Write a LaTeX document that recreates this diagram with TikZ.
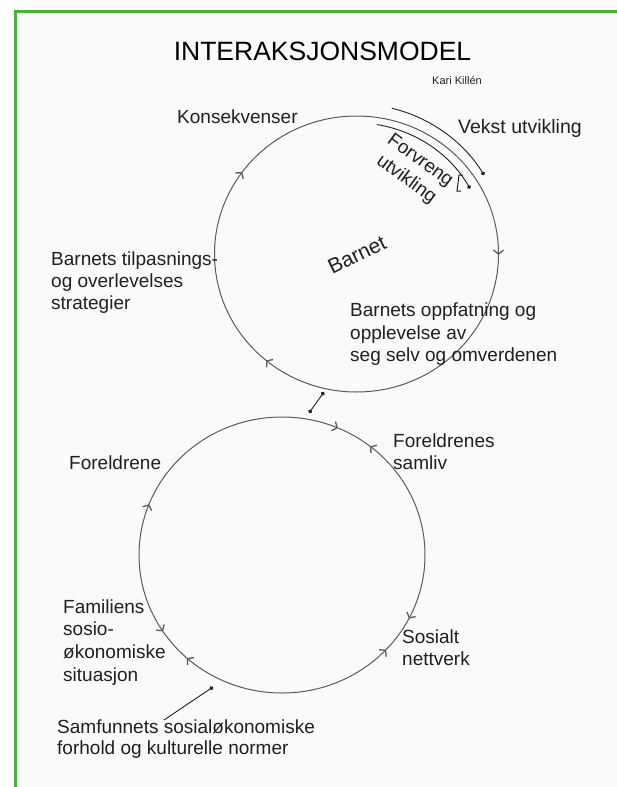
\documentclass[tikz,border=0pt]{standalone}
\usepackage{fontspec}
\setmainfont{Liberation Sans}
\usetikzlibrary{arrows.meta,decorations.markings}
\definecolor{framegreen}{RGB}{76,175,60}
\definecolor{inkgray}{RGB}{32,32,32}
\definecolor{ringgray}{RGB}{90,90,90}
\definecolor{paper}{RGB}{250,250,250}
\tikzset{
  chev/.tip={Straight Barb[length=4pt,width=10pt,line width=1.3pt]},
  dottip/.tip={Circle[length=4pt]},
}
\begin{document}
\begin{tikzpicture}[x=1pt,y=1pt,
  ring/.style={draw=ringgray, line width=1pt},
  lbl/.style={anchor=base west, align=left, inner sep=0pt, text=inkgray,
    font=\fontsize{19}{22.4}\selectfont},
  dotend/.style={draw=inkgray, line width=0.9pt, -dottip},
  frameline/.style={draw=framegreen, line width=3pt},
  upperring/.style={ring, postaction={decorate}, decoration={markings,
    mark=at position 0.150 with {\arrowreversed{chev}},
    mark=at position 0.389 with {\arrowreversed{chev}},
    mark=at position 0.749 with {\arrowreversed{chev}}}},
  lowerring/.style={ring, postaction={decorate}, decoration={markings,
    mark=at position 0.191 with {\arrowreversed{chev}},
    mark=at position 0.342 with {\arrow{chev}},
    mark=at position 0.383 with {\arrowreversed{chev}},
    mark=at position 0.631 with {\arrow{chev}},
    mark=at position 0.675 with {\arrowreversed{chev}},
    mark=at position 0.893 with {\arrow{chev}},
    mark=at position 0.935 with {\arrowreversed{chev}}}},
]
\useasboundingbox (0,0) rectangle (617,-787);
\fill[white] (0,0) rectangle (617,-787);
\fill[paper] (15,-11.5) rectangle (617,-787);
\draw[frameline] (15,-787) -- (15,-11.5) -- (617,-11.5);

% circles
\coordinate (U) at (356.5,-254);
\coordinate (L) at (282,-555);
\draw[upperring] (U) ++(0,138) arc[start angle=90, end angle=450, x radius=142, y radius=138];
\draw[lowerring] (L) ++(0,138) arc[start angle=90, end angle=450, x radius=143, y radius=138];

% title
\node[anchor=base, inner sep=0pt, text=black, font=\fontsize{26.5}{30}\selectfont] (title) at (322.5,-60) {INTERAKSJONSMODEL};
\node[anchor=base, inner sep=0pt, text=inkgray, font=\fontsize{11}{13}\selectfont] (author) at (457,-84) {Kari Killén};

% labels (anchor = baseline of the last line)
\node[lbl] (kons) at (177,-123) {Konsekvenser};
\node[lbl, font=\fontsize{19.5}{22}\selectfont] (vekst) at (458,-133) {Vekst utvikling};
\node[inner sep=0pt, align=center, text=inkgray, rotate=-36,
  font=\fontsize{19}{23.5}\selectfont] (forv) at (413,-170.5) {Forvreng\\utvikling};
\node[inner sep=0pt, text=inkgray, rotate=26, font=\fontsize{21}{24}\selectfont] (barnet) at (357,-255) {Barnet};
\node[lbl] (tilp) at (51,-309.8) {Barnets tilpasnings-\\og overlevelses\\strategier};
\node[lbl] (oppf) at (350,-361.5) {Barnets oppfatning og\\opplevelse av\\seg selv og omverdenen};
\node[lbl] (foreldrene) at (69,-469) {Foreldrene};
\node[lbl] (samliv) at (393,-469.4) {Foreldrenes\\samliv};
\node[lbl, font=\fontsize{19}{22.9}\selectfont] (fam) at (63,-681.7) {Familiens\\sosio-\\økonomiske\\situasjon};
\node[lbl] (sos) at (402,-665.4) {Sosialt\\nettverk};
\node[lbl, font=\fontsize{19}{21}\selectfont] (samf) at (57,-754) {Samfunnets sosialøkonomiske\\forhold og kulturelle normer};

% growth arcs
\draw[dotend] (U) ++(76.4:150) arc[start angle=76.4, end angle=31.7, radius=150];
\draw[dotend] (U) ++(81.1:131) arc[start angle=81.1, end angle=29.9, radius=131];
\draw[draw=inkgray, line width=1pt] (463,-175) -- (459,-175) -- (457,-191) -- (461,-191);

% connectors
\coordinate (ub) at (324,-392);
\coordinate (lt) at (309,-413);
\draw[draw=inkgray, line width=0.9pt, dottip-dottip] (ub) -- (lt);
\coordinate (sa) at (164,-720);
\coordinate (sb) at (213,-687);
\draw[dotend] (sa) -- (sb);
\end{tikzpicture}
\end{document}
